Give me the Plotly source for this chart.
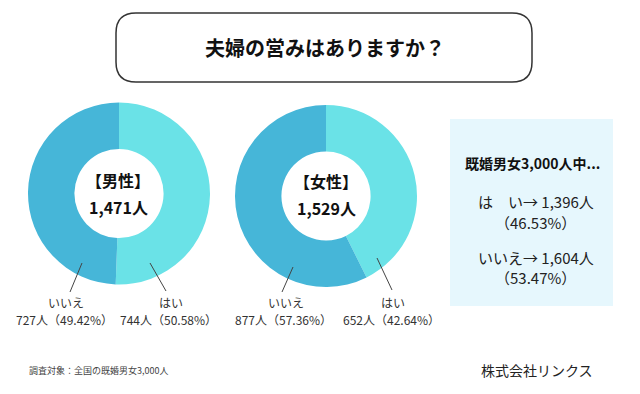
import plotly.graph_objects as go

# ---- data ----
title_text = "夫婦の営みはありますか？"
answers = ["はい", "いいえ"]
male_counts = [744, 727]
female_counts = [652, 877]
group_names = ["男性", "女性"]
total_label = "既婚男女3,000人中..."
total_counts = [1396, 1604]
footer_left = "調査対象：全国の既婚男女3,000人"
footer_right = "株式会社リンクス"

COL_YES = "#6AE2E7"
COL_NO = "#46B6D8"
FONT = "Noto Sans CJK JP"
W, H = 640, 394

def pct(v, tot):
    return f"{v / tot * 100:.2f}%"

fig = go.Figure()

pies = [
    (male_counts, (28, 210), (101, 286)),
    (female_counts, (235, 417), (104, 288)),
]
for counts, (x0, x1), (y0, y1) in pies:
    fig.add_trace(go.Pie(
        labels=answers, values=counts, sort=False, direction="clockwise",
        rotation=0, hole=0.49, textinfo="none", hoverinfo="label+value",
        marker=dict(colors=[COL_YES, COL_NO], line=dict(width=0)),
        domain=dict(x=[x0 / W, x1 / W], y=[1 - y1 / H, 1 - y0 / H]),
        showlegend=False,
    ))

# invisible pixel axes for overlays
fig.update_layout(
    width=W, height=H, margin=dict(l=0, r=0, t=0, b=0),
    paper_bgcolor="white", plot_bgcolor="rgba(0,0,0,0)",
    xaxis=dict(range=[0, W], visible=False, fixedrange=True),
    yaxis=dict(range=[H, 0], visible=False, fixedrange=True),
    font=dict(family=FONT, color="#222"),
)

shapes = []
# title rounded box
bx0, by0, bx1, by1, r = 116, 13, 532, 82, 20
path = (f"M {bx0+r},{by0} L {bx1-r},{by0} Q {bx1},{by0} {bx1},{by0+r} "
        f"L {bx1},{by1-r} Q {bx1},{by1} {bx1-r},{by1} L {bx0+r},{by1} "
        f"Q {bx0},{by1} {bx0},{by1-r} L {bx0},{by0+r} Q {bx0},{by0} {bx0+r},{by0} Z")
shapes.append(dict(type="path", path=path, xref="x", yref="y",
                   line=dict(color="#333", width=1.5), fillcolor="white"))
# summary box
shapes.append(dict(type="rect", xref="x", yref="y", x0=450, x1=613, y0=119, y1=306,
                   line=dict(width=0), fillcolor="#E6F7FD", layer="below"))
# leader lines
for (xa, ya, xb, yb) in [(82, 263, 70, 292), (150, 263, 166, 291),
                         (293, 267, 282, 292), (377, 258, 392, 290)]:
    shapes.append(dict(type="line", xref="x", yref="y", x0=xa, y0=ya, x1=xb, y1=yb,
                       line=dict(color="#444", width=1)))

ann = []
def t(x, y, s, size, bold=False, anchor="center", color="#222"):
    ann.append(dict(x=x, y=y, xref="x", yref="y", text=f"<b>{s}</b>" if bold else s,
                    showarrow=False, xanchor=anchor, yanchor="middle",
                    font=dict(size=size, color=color, family=FONT)))

t(325, 47, title_text, 20, bold=True, color="#111")

centers = [(118, 180, 207), (326, 181, 208)]
for (cx, y1, y2), name, counts in zip(centers, group_names, [male_counts, female_counts]):
    t(cx, y1, f"【{name}】", 16, bold=True, color="#111")
    t(cx, y2, f"{sum(counts):,}人", 16, bold=True, color="#111")

label_pos = [
    (male_counts, [(171, 168), (66, 64)]),
    (female_counts, [(393, 391), (286, 283)]),
]
for counts, poss in label_pos:
    tot = sum(counts)
    for ans, c, (xa, xb) in zip(answers, counts, poss):
        t(xa, 302, ans, 12, color="#333")
        t(xb, 319, f"{c}人（{pct(c, tot)}）", 12, color="#333")

grand = sum(total_counts)
t(532, 163, total_label, 14, bold=True, color="#111")
t(536, 201, f"は　い→ {total_counts[0]:,}人", 15, color="#222")
t(535, 222, f"（{pct(total_counts[0], grand)}）", 15, color="#222")
t(536, 257, f"いいえ→ {total_counts[1]:,}人", 15, color="#222")
t(535, 277, f"（{pct(total_counts[1], grand)}）", 15, color="#222")

t(27, 370, footer_left, 9, anchor="left", color="#444")
t(595, 370, footer_right, 14, anchor="right", color="#222")

fig.update_layout(shapes=shapes, annotations=ann)
fig.write_html(
    "out.html",
    config={"displayModeBar": False},
    post_script="document.body.style.margin='0';document.body.style.overflow='hidden';",
)
